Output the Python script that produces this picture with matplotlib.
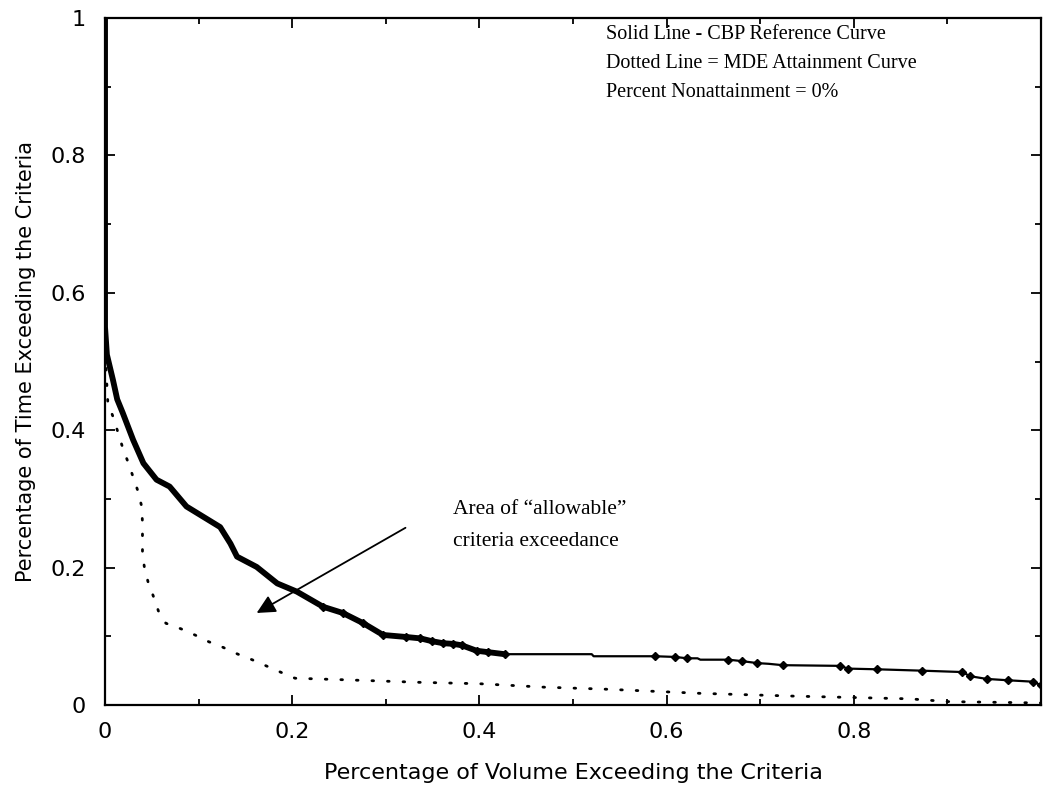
import matplotlib
matplotlib.use("Agg")
import matplotlib.pyplot as plt
import numpy as np

# CBP reference curve (solid)
cbp_x = [0.0, 0.0, 0.002, 0.0085, 0.013, 0.019, 0.030, 0.041, 0.055, 0.069,
         0.087, 0.105, 0.123, 0.134, 0.141, 0.162, 0.184, 0.205, 0.233, 0.254,
         0.276, 0.297, 0.322, 0.337, 0.349, 0.361, 0.372, 0.381, 0.397, 0.409,
         0.427, 0.520, 0.522, 0.588, 0.609, 0.622, 0.633, 0.636, 0.666, 0.680,
         0.697, 0.709, 0.724, 0.785, 0.794, 0.825, 0.873, 0.916, 0.924, 0.942,
         0.965, 0.991, 1.0]
cbp_y = [1.0, 0.55, 0.51, 0.473, 0.445, 0.425, 0.386, 0.352, 0.328, 0.318,
         0.289, 0.274, 0.259, 0.235, 0.216, 0.201, 0.177, 0.165, 0.143, 0.134,
         0.119, 0.102, 0.099, 0.097, 0.093, 0.090, 0.089, 0.087, 0.079, 0.077,
         0.074, 0.074, 0.071, 0.071, 0.070, 0.068, 0.068, 0.066, 0.066, 0.064,
         0.061, 0.060, 0.058, 0.057, 0.053, 0.052, 0.050, 0.048, 0.042, 0.038,
         0.036, 0.034, 0.029]

# points drawn with a marker on the tail of the solid curve
mark_x = [0.233, 0.254, 0.276, 0.297, 0.322, 0.337, 0.349, 0.361, 0.372, 0.381,
          0.397, 0.409, 0.427, 0.588, 0.609, 0.622, 0.666, 0.680, 0.697, 0.724,
          0.785, 0.794, 0.825, 0.873, 0.916, 0.924, 0.942, 0.965, 0.991, 1.0]
mark_y = [0.143, 0.134, 0.119, 0.102, 0.099, 0.097, 0.093, 0.090, 0.089, 0.087,
          0.079, 0.077, 0.074, 0.071, 0.070, 0.068, 0.066, 0.064, 0.061, 0.058,
          0.057, 0.053, 0.052, 0.050, 0.048, 0.042, 0.038, 0.036, 0.034, 0.029]

# MDE attainment curve (dotted)
mde_x = [0.001, 0.003, 0.009, 0.019, 0.025, 0.030, 0.035, 0.039, 0.040, 0.040,
         0.042, 0.046, 0.052, 0.057, 0.065, 0.081, 0.096, 0.111, 0.126, 0.142,
         0.157, 0.189, 0.203, 0.25, 0.337, 0.40, 0.469, 0.536, 0.636, 0.735,
         0.86, 0.90, 1.0]
mde_y = [0.49, 0.44, 0.418, 0.374, 0.352, 0.332, 0.312, 0.29, 0.266, 0.221,
         0.201, 0.179, 0.157, 0.137, 0.119, 0.111, 0.102, 0.092, 0.084, 0.074,
         0.066, 0.047, 0.039, 0.037, 0.033, 0.031, 0.026, 0.023, 0.017, 0.013,
         0.009, 0.005, 0.003]

xticks = [0, 0.2, 0.4, 0.6, 0.8]
xticklabels = ["0", "0.2", "0.4", "0.6", "0.8"]
yticks = [0, 0.2, 0.4, 0.6, 0.8, 1.0]
yticklabels = ["0", "0.2", "0.4", "0.6", "0.8", "1"]

note_lines = ["Solid Line - CBP Reference Curve",
              "Dotted Line = MDE Attainment Curve",
              "Percent Nonattainment = 0%"]
area_lines = ["Area of \u201callowable\u201d", "criteria exceedance"]

sans = ["DejaVu Sans"]
serif = ["Liberation Serif", "DejaVu Serif"]

fig = plt.figure(figsize=(10.43, 7.88), dpi=100)
ax = fig.add_axes([0.1007, 0.1053, 0.8974, 0.8718])

cx = np.array(cbp_x)
cy = np.array(cbp_y)
ax.plot(cx, cy, color="black", lw=1.6, zorder=3)
thick = cx <= 0.43
ax.plot(cx[thick], cy[thick], color="black", lw=4.2, zorder=3,
        solid_capstyle="round", solid_joinstyle="round")
ax.plot(mark_x, mark_y, "D", color="black", ms=4.5, zorder=4)

ax.plot(mde_x, mde_y, color="black", lw=2.0, linestyle=(0, (0.6, 5.0)),
        dash_capstyle="round", zorder=3)

# arrow pointing into the area between the curves
ax.annotate("", xy=(0.162, 0.134), xytext=(0.321, 0.258),
            arrowprops=dict(arrowstyle="-|>", color="black", lw=1.3,
                            mutation_scale=28, shrinkA=0, shrinkB=0))

for i, line in enumerate(note_lines):
    ax.text(0.535, 0.976 - i * 0.042, line, family=serif,
            fontsize=14.5, ha="left", va="center", transform=ax.transAxes)
for i, line in enumerate(area_lines):
    ax.text(0.372, 0.285 - i * 0.047, line, family=serif,
            fontsize=15.5, ha="left", va="center", transform=ax.transData)

ax.set_xlim(0, 1)
ax.set_ylim(0, 1)
ax.set_xticks(xticks)
ax.set_xticklabels(xticklabels, family=sans)
ax.set_yticks(yticks)
ax.set_yticklabels(yticklabels, family=sans)
ax.set_xticks(np.arange(0.1, 1.0, 0.2), minor=True)
ax.set_yticks(np.arange(0.1, 1.0, 0.2), minor=True)
ax.tick_params(which="both", direction="in", top=True, right=True, width=1.3)
ax.tick_params(which="major", length=7, labelsize=16)
ax.tick_params(which="minor", length=4)
ax.tick_params(axis="x", pad=12)
ax.tick_params(axis="y", pad=14)
for sp in ax.spines.values():
    sp.set_linewidth(1.6)

ax.set_xlabel("Percentage of Volume Exceeding the Criteria", fontsize=16,
              family=sans)
ax.set_ylabel("Percentage of Time Exceeding the Criteria", fontsize=15,
              family=sans)
ax.xaxis.set_label_coords(0.5, -0.0845)
ax.yaxis.set_label_coords(-0.074, 0.5)

fig.savefig("out.png", dpi=100)
